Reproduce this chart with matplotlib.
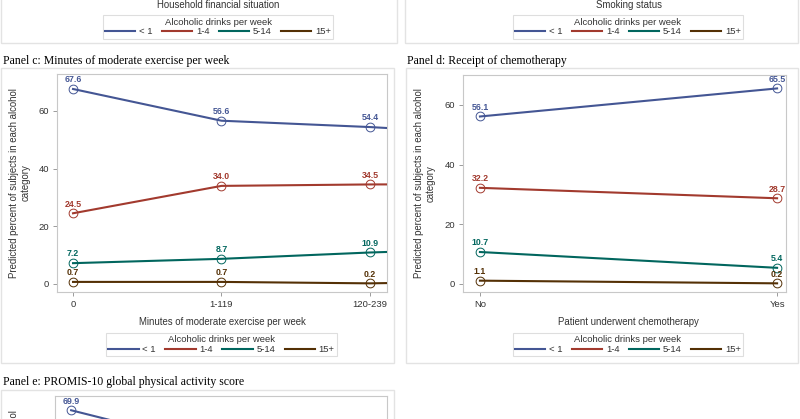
import matplotlib
matplotlib.use("Agg")
import matplotlib.pyplot as plt
from matplotlib.lines import Line2D
from matplotlib.patches import Rectangle

# ---------------- data ----------------
series = ["< 1", "1-4", "5-14", "15+"]
colors = ["#445694", "#A23A2E", "#01665E", "#543005"]

c_categories = ["0", "1-119", "120-239", "240+"]
c_lt1 = [67.6, 56.6, 54.4, 51.5]
c_1to4 = [24.5, 34.0, 34.5, 34.6]
c_5to14 = [7.2, 8.7, 10.9, 12.5]
c_15plus = [0.7, 0.7, 0.2, 1.0]

d_categories = ["No", "Yes"]
d_lt1 = [56.1, 65.5]
d_1to4 = [32.2, 28.7]
d_5to14 = [10.7, 5.4]
d_15plus = [1.1, 0.2]

e_lt1 = [69.9, 56.5]

y_ticks = [0, 20, 40, 60]

# ---------------- figure ----------------
W, H = 800, 419
fig = plt.figure(figsize=(W / 100, H / 100), dpi=100)
fig.patch.set_facecolor("white")

SANS = "Liberation Sans"
SERIF = "Liberation Serif"
TXT = "#333333"


def px_axes(x0, y0, x1, y1):
    return fig.add_axes([x0 / W, 1 - y1 / H, (x1 - x0) / W, (y1 - y0) / H])


def fx(x):
    return x / W


def fy(y):
    return 1 - y / H


def style(ax):
    for sp in ax.spines.values():
        sp.set_color("#c8c8c8")
        sp.set_linewidth(0.8)
    ax.tick_params(direction="out", length=3, width=0.6, color="#8c8c8c",
                   labelsize=6.8, labelcolor=TXT, pad=2.5)
    for lab in ax.get_xticklabels() + ax.get_yticklabels():
        lab.set_family(SANS)


def draw_series(ax, values_list, labels=True):
    for vals, col in zip(values_list, colors):
        xs = list(range(len(vals)))
        ax.plot(xs, vals, color=col, lw=1.5, marker="o", ms=6.3,
                mfc="none", mec=col, mew=0.7, zorder=3)
        if labels:
            for x, v in zip(xs, vals):
                ax.annotate(f"{v:.1f}", (x, v), xytext=(0, 6.6),
                            textcoords="offset points", ha="center",
                            va="center", fontsize=6.3, fontweight="bold",
                            color=col, family=SANS)


def border(x0, y0, x1, y1):
    fig.patches.append(Rectangle((fx(x0), fy(y1)), fx(x1) - fx(x0),
                                 fy(y0) - fy(y1), transform=fig.transFigure,
                                 fill=False, edgecolor="#e3e3e3", lw=1.0))


def legend(cx, cy):
    handles = [Line2D([], [], color=c, lw=1.5) for c in colors]
    lg = fig.legend(handles, series, loc="center",
                    bbox_to_anchor=(fx(cx), fy(cy)), ncol=4,
                    title="Alcoholic drinks per week",
                    prop={"family": SANS, "size": 6.8},
                    title_fontproperties={"family": SANS, "size": 6.8},
                    frameon=True, fancybox=False, edgecolor="#d6d6d6",
                    handlelength=3.2, handletextpad=0.4, columnspacing=1.0,
                    borderpad=0.25, labelspacing=0.1, borderaxespad=0)
    lg.get_frame().set_linewidth(0.8)
    lg.get_title().set_color(TXT)
    for t in lg.get_texts():
        t.set_color(TXT)
    return lg


# panel borders
border(1, -10, 397, 43)
border(405, -10, 798, 43)
border(1, 68, 394, 363)
border(406, 68, 798, 363)
border(1, 390, 394, 520)

# remnants of panels a and b
fig.text(fx(218), fy(4.5), "Household financial situation", ha="center",
         va="center", fontsize=6.9, family=SANS, color=TXT)
fig.text(fx(629), fy(4.5), "Smoking status", ha="center", va="center",
         fontsize=6.9, family=SANS, color=TXT)
legend(218, 27)
legend(628, 27)

ylab = "Predicted percent of subjects in each alcohol\ncategory"

# ---------------- panel c ----------------
fig.text(fx(3), fy(61), "Panel c: Minutes of moderate exercise per week",
         ha="left", va="center", fontsize=8.5, family=SERIF, color="black")
axc = px_axes(57, 74, 387, 292)
draw_series(axc, [c_lt1, c_1to4, c_5to14, c_15plus])
axc.set_xticks(range(len(c_categories)))
axc.set_xticklabels(c_categories)
axc.set_yticks(y_ticks)
axc.set_xlim(-0.108, 2.115)
axc.set_ylim(-2.8, 72.8)
style(axc)
fig.text(fx(20), fy(183), ylab, rotation=90, ha="center", va="center",
         multialignment="center", fontsize=6.9, family=SANS, color=TXT)
fig.text(fx(222), fy(322), "Minutes of moderate exercise per week",
         ha="center", va="center", fontsize=6.9, family=SANS, color=TXT)
legend(221.5, 344.5)

# ---------------- panel d ----------------
fig.text(fx(407), fy(61), "Panel d: Receipt of chemotherapy",
         ha="left", va="center", fontsize=8.5, family=SERIF, color="black")
axd = px_axes(463, 75, 786, 292)
draw_series(axd, [d_lt1, d_1to4, d_5to14, d_15plus])
axd.set_xticks(range(len(d_categories)))
axd.set_xticklabels(d_categories)
axd.set_yticks(y_ticks)
axd.set_xlim(-0.057, 1.03)
axd.set_ylim(-2.7, 70.0)
style(axd)
fig.text(fx(425), fy(183.5), ylab, rotation=90, ha="center", va="center",
         multialignment="center", fontsize=6.9, family=SANS, color=TXT)
fig.text(fx(628), fy(322), "Patient underwent chemotherapy",
         ha="center", va="center", fontsize=6.9, family=SANS, color=TXT)
legend(628, 344.5)

# ---------------- panel e ----------------
fig.text(fx(3), fy(382), "Panel e: PROMIS-10 global physical activity score",
         ha="left", va="center", fontsize=8.5, family=SERIF, color="black")
axe = px_axes(55, 396, 387, 614)
draw_series(axe, [e_lt1])
axe.set_yticks(y_ticks)
axe.set_xticks([])
axe.set_xlim(-0.108, 2.115)
axe.set_ylim(-3.0, 75.0)
style(axe)
fig.text(fx(20), fy(505), ylab, rotation=90, ha="center", va="center",
         multialignment="center", fontsize=6.9, family=SANS, color=TXT)

fig.savefig("out.png", dpi=100, facecolor="white")
